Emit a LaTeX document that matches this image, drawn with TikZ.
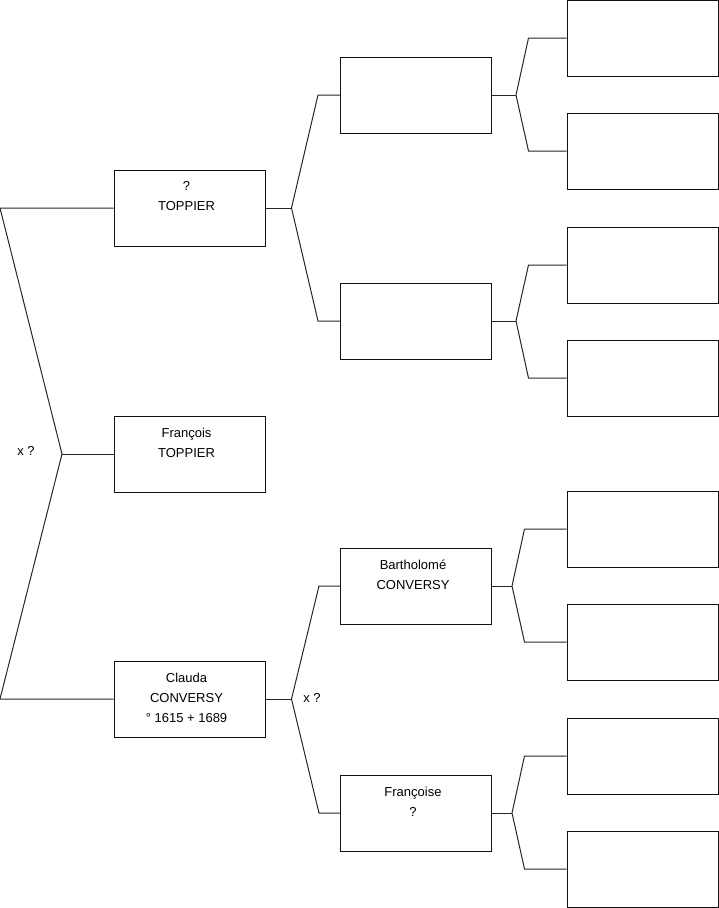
\documentclass[tikz,border=0pt]{standalone}
\usepackage{fontspec}
\setmainfont{Liberation Sans}
\usetikzlibrary{positioning, calc}
\definecolor{linecol}{HTML}{262626}
\definecolor{boxcol}{HTML}{111111}

\begin{document}
\begin{tikzpicture}[x=1pt, y=-1pt,
    every node/.style={font=\fontsize{13}{20}\selectfont},
    person/.style={draw=boxcol, line width=1pt, minimum width=151pt, minimum height=76pt, inner sep=0pt},
    who/.style={align=center, inner sep=0pt, xshift=-3pt},
    link/.style={linecol, line width=1pt},
]
\useasboundingbox (0,0) rectangle (719,908);

% the couple and their child
\node[person] (fa) at (189.5,208) {};
\node[person] (me) at (189.5,454) {};
\node[person] (mo) at (189.5,699) {};

% grandparents
\node[person] (ff) at (416,95) {};
\node[person] (fm) at (416,321) {};
\node[person] (mf) at (416,586) {};
\node[person] (mm) at (416,813) {};

% great-grandparents, all left empty
\foreach \n/\y in {a/38, b/151, c/265, d/378, e/529, f/642, g/756, h/869}{
    \node[person] (g\n) at (642.5,\y) {};
}

% names
\node[who, below=12pt of fa.north] (fa-t) {?\\TOPPIER};
\node[who, below=12pt of me.north] (me-t) {François\\TOPPIER};
\node[who, below=12pt of mo.north] (mo-t) {Clauda\\CONVERSY\\° 1615 + 1689};
\node[who, below=12pt of mf.north] (mf-t) {Bartholomé\\CONVERSY};
\node[who, below=12pt of mm.north] (mm-t) {Françoise\\?};

% first fork
\coordinate (k) at (62,454);
\coordinate (ka) at (0,208);
\coordinate (kb) at (0,699);
\draw[link] (fa.west) -- (ka) -- (k) -- (kb) -- (mo.west);
\draw[link] (k) -- (me.west);
\node (wed1) at (26,451) {x ?};

% forks to the parents of each person
\foreach \c/\u/\v/\s/\t in {fa/ff/fm/26/22, mo/mf/mm/26/21,
                            ff/ga/gb/24/38, fm/gc/gd/24/38,
                            mf/ge/gf/20/42, mm/gg/gh/20/42}{
    \draw[link] (\c.east) -- ++(\s,0) coordinate (\c-j);
    \draw[link] (\c-j) -- ($(\u.west)+(-\t,0)$) -- (\u.west);
    \draw[link] (\c-j) -- ($(\v.west)+(-\t,0)$) -- (\v.west);
}
\node (wed2) at (312,698) {x ?};
\end{tikzpicture}
\end{document}
